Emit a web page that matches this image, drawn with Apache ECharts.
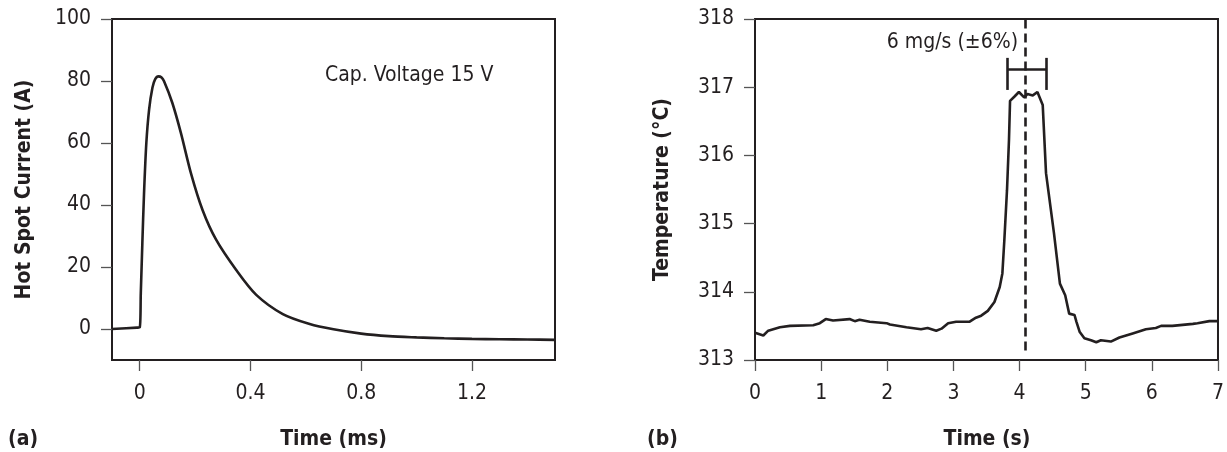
<!DOCTYPE html>
<html>
<head>
<meta charset="utf-8">
<script src="https://cdn.jsdelivr.net/npm/echarts@6/dist/echarts.min.js"></script>
<style>
html,body{margin:0;padding:0;background:#fff;}
#chart{width:1227px;height:452px;}
</style>
</head>
<body>
<div id="chart"></div>
<script>
// ---- Panel (a): hot spot current vs time ----
const timeMs = [-0.1, -0.01, 0, 0.004, 0.0096, 0.0157, 0.024, 0.034, 0.046, 0.056, 0.068, 0.078, 0.088, 0.118, 0.149, 0.185, 0.227, 0.276, 0.348, 0.421, 0.517, 0.614, 0.7, 0.8, 0.9, 1.0, 1.1, 1.2, 1.3, 1.4, 1.5];
const currentA = [0, 0.45, 0.5, 11.5, 27.7, 43.8, 60.0, 70.8, 77.8, 80.6, 81.5, 81.2, 79.9, 72.9, 63.2, 50.3, 38.4, 28.8, 19.1, 11.0, 4.8, 1.6, -0.1, -1.5, -2.3, -2.7, -3.0, -3.2, -3.3, -3.4, -3.5];
const xTicksA = [0, 0.4, 0.8, 1.2];
const yTicksA = [0, 20, 40, 60, 80, 100];

// ---- Panel (b): temperature vs time ----
const timeS = [0, 0.126, 0.2, 0.377, 0.528, 0.88, 0.98, 1.07, 1.18, 1.43, 1.508, 1.58, 1.735, 1.99, 2.04, 2.29, 2.51, 2.61, 2.74, 2.82, 2.92, 3.04, 3.24, 3.34, 3.42, 3.52, 3.62, 3.70, 3.74, 3.77, 3.81, 3.84, 3.856, 3.92, 3.99, 4.07, 4.12, 4.20, 4.27, 4.35, 4.40, 4.52, 4.61, 4.69, 4.75, 4.83, 4.86, 4.91, 4.98, 5.08, 5.16, 5.23, 5.38, 5.51, 5.71, 5.91, 6.06, 6.14, 6.31, 6.62, 6.69, 6.87, 7.0];
const tempC = [313.40, 313.36, 313.43, 313.48, 313.50, 313.51, 313.54, 313.60, 313.58, 313.60, 313.57, 313.59, 313.56, 313.54, 313.52, 313.48, 313.45, 313.47, 313.43, 313.46, 313.54, 313.56, 313.56, 313.62, 313.65, 313.72, 313.85, 314.07, 314.27, 314.76, 315.49, 316.23, 316.80, 316.86, 316.93, 316.85, 316.90, 316.88, 316.93, 316.74, 315.74, 314.86, 314.12, 313.95, 313.68, 313.66, 313.56, 313.41, 313.32, 313.29, 313.26, 313.29, 313.27, 313.33, 313.39, 313.45, 313.47, 313.50, 313.50, 313.53, 313.54, 313.57, 313.57];
const flowMarkTime = 4.09;        // dashed vertical line
const flowMarkBottom = 313.14;
const errLow = 3.82, errHigh = 4.40, errY = 317.27, capBottom = 316.96, capTop = 317.43;

// ---- Text ----
const panelLabels = ['(a)', '(b)'];
const xTitles = ['Time (ms)', 'Time (s)'];
const yTitles = ['Hot Spot Current (A)', 'Temperature (°C)'];
const noteA = 'Cap. Voltage 15 V';
const noteB = '6 mg/s (±6%)';

const INK = '#231f20';
const FONT = '"Liberation Sans Narrow", "Arial Narrow", "DejaVu Sans Condensed", "Liberation Sans", sans-serif';
const FS = 21;

function fmt(v) { return String(Math.round(v * 10) / 10); }

function axisBase() {
  return {
    axisLine: { show: true, onZero: false, lineStyle: { color: INK, width: 2 } },
    axisTick: { show: true, inside: false, length: 11, lineStyle: { color: '#555', width: 1.3 } },
    splitLine: { show: false },
    axisLabel: { color: INK, fontSize: FS, fontFamily: FONT }
  };
}

const chart = echarts.init(document.getElementById('chart'), null, { renderer: 'canvas' });

const lineSeries = (xi, xs, ys, extra) => Object.assign({
  type: 'line', xAxisIndex: xi, yAxisIndex: xi,
  data: xs.map((x, i) => [x, ys[i]]),
  showSymbol: false, symbol: 'none', silent: true,
  lineStyle: { color: INK, width: 2.6 },
  animation: false
}, extra || {});

const option = {
  animation: false,
  backgroundColor: '#fff',
  grid: [
    { left: 112, top: 19, width: 443, height: 341, show: true, borderColor: INK, borderWidth: 2, backgroundColor: 'transparent' },
    { left: 755, top: 19, width: 464, height: 341, show: true, borderColor: INK, borderWidth: 2, backgroundColor: 'transparent' }
  ],
  xAxis: [
    Object.assign(axisBase(), {
      type: 'value', gridIndex: 0, min: -0.1, max: 1.5,
      axisTick: { show: true, length: 11, customValues: xTicksA, lineStyle: { color: '#555', width: 1.3 } },
      axisLabel: { color: INK, fontSize: FS, fontFamily: FONT, margin: 23, customValues: xTicksA, formatter: fmt }
    }),
    Object.assign(axisBase(), {
      type: 'value', gridIndex: 1, min: 0, max: 7, interval: 1,
      axisLabel: { color: INK, fontSize: FS, fontFamily: FONT, margin: 23 }
    })
  ],
  yAxis: [
    Object.assign(axisBase(), {
      type: 'value', gridIndex: 0, min: -10, max: 100,
      axisTick: { show: true, length: 11, customValues: yTicksA, lineStyle: { color: '#555', width: 1.3 } },
      axisLabel: { color: INK, fontSize: FS, fontFamily: FONT, margin: 21, customValues: yTicksA }
    }),
    Object.assign(axisBase(), {
      type: 'value', gridIndex: 1, min: 313, max: 318, interval: 1,
      axisLabel: { color: INK, fontSize: FS, fontFamily: FONT, margin: 21 }
    })
  ],
  series: [
    lineSeries(0, timeMs, currentA, { smooth: 0.3 }),
    lineSeries(1, timeS, tempC, {
      markLine: {
        silent: true, symbol: ['none', 'none'], animation: false,
        label: { show: false },
        data: [
          [{ coord: [flowMarkTime, flowMarkBottom], lineStyle: { color: INK, width: 2.6, type: [9, 5] } }, { coord: [flowMarkTime, 318] }],
          [{ coord: [errLow, errY], lineStyle: { color: INK, width: 2.6, type: 'solid' } }, { coord: [errHigh, errY] }],
          [{ coord: [errLow, capBottom], lineStyle: { color: INK, width: 2.6, type: 'solid' } }, { coord: [errLow, capTop] }],
          [{ coord: [errHigh, capBottom], lineStyle: { color: INK, width: 2.6, type: 'solid' } }, { coord: [errHigh, capTop] }]
        ]
      }
    })
  ],
  graphic: [
    { type: 'text', x: 325, y: 76, style: { text: noteA, fill: INK, font: FS + 'px ' + FONT, align: 'left', verticalAlign: 'middle' } },
    { type: 'text', x: 1018, y: 43, style: { text: noteB, fill: INK, font: FS + 'px ' + FONT, align: 'right', verticalAlign: 'middle' } },
    { type: 'text', x: 333.5, y: 440, style: { text: xTitles[0], fill: INK, font: 'bold ' + FS + 'px ' + FONT, align: 'center', verticalAlign: 'middle' } },
    { type: 'text', x: 987, y: 440, style: { text: xTitles[1], fill: INK, font: 'bold ' + FS + 'px ' + FONT, align: 'center', verticalAlign: 'middle' } },
    { type: 'text', x: 8, y: 440, style: { text: panelLabels[0], fill: INK, font: 'bold ' + FS + 'px ' + FONT, align: 'left', verticalAlign: 'middle' } },
    { type: 'text', x: 647, y: 440, style: { text: panelLabels[1], fill: INK, font: 'bold ' + FS + 'px ' + FONT, align: 'left', verticalAlign: 'middle' } },
    { type: 'text', x: 25, y: 189.5, rotation: Math.PI / 2, style: { text: yTitles[0], fill: INK, font: 'bold ' + FS + 'px ' + FONT, align: 'center', verticalAlign: 'middle' } },
    { type: 'text', x: 663, y: 189.5, rotation: Math.PI / 2, style: { text: yTitles[1], fill: INK, font: 'bold ' + FS + 'px ' + FONT, align: 'center', verticalAlign: 'middle' } }
  ]
};
chart.setOption(option);
</script>
</body>
</html>
